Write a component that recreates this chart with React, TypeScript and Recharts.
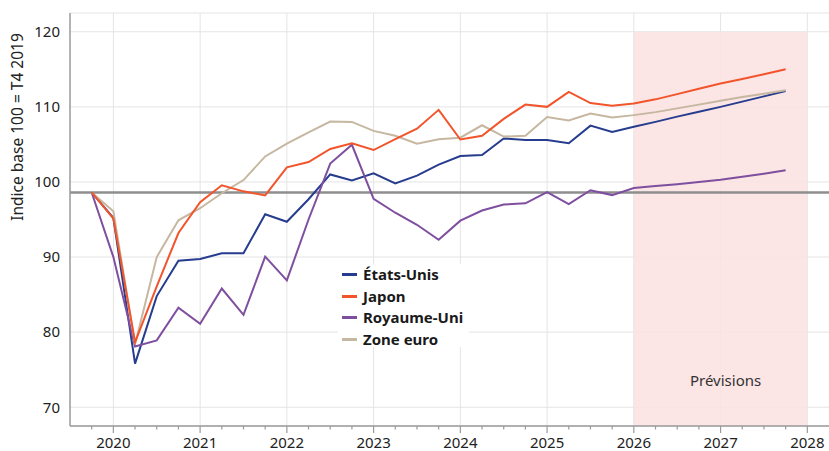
import {
  LineChart, Line,
  XAxis, YAxis, CartesianGrid, Legend,
  ReferenceArea, ReferenceLine, Label,
} from 'recharts'

// Trimestres, T4 2019 -> T4 2027 (position en années décimales)
const periods = [
  2019.75,
  2020, 2020.25, 2020.5, 2020.75,
  2021, 2021.25, 2021.5, 2021.75,
  2022, 2022.25, 2022.5, 2022.75,
  2023, 2023.25, 2023.5, 2023.75,
  2024, 2024.25, 2024.5, 2024.75,
  2025, 2025.25, 2025.5, 2025.75,
  2026, 2026.25, 2026.5, 2026.75,
  2027, 2027.25, 2027.5, 2027.75,
]

const etatsUnis = [
  98.6, 95.2, 75.8, 84.8, 89.5, 89.75, 90.5, 90.5, 95.7, 94.7, 97.7, 101.0, 100.2,
  101.15, 99.8, 100.85, 102.3, 103.45, 103.6, 105.8, 105.6, 105.6, 105.15, 107.5,
  106.65, 107.35, 108.0, 108.7, 109.35, 110.0, 110.7, 111.4, 112.1,
]
const japon = [
  98.6, 95.15, 78.65, 86.1, 93.2, 97.3, 99.55, 98.75, 98.2, 101.95, 102.65, 104.4,
  105.15, 104.25, 105.7, 107.1, 109.6, 105.65, 106.15, 108.4, 110.3, 110.0, 112.0,
  110.5, 110.15, 110.45, 111.0, 111.7, 112.4, 113.1, 113.7, 114.35, 115.0,
]
const royaumeUni = [
  98.6, 90.0, 78.1, 78.9, 83.25, 81.1, 85.8, 82.3, 90.05, 86.9, 95.0, 102.45, 104.95,
  97.75, 95.9, 94.3, 92.3, 94.85, 96.2, 97.0, 97.15, 98.65, 97.05, 98.9, 98.25,
  99.2, 99.45, 99.7, 100.0, 100.3, 100.7, 101.1, 101.55,
]
const zoneEuro = [
  98.6, 96.1, 78.4, 90.0, 94.9, 96.5, 98.5, 100.25, 103.4, 105.1, 106.6, 108.05,
  108.0, 106.8, 106.15, 105.1, 105.7, 105.9, 107.55, 106.05, 106.15, 108.65, 108.2,
  109.1, 108.6, 108.9, 109.3, 109.8, 110.3, 110.8, 111.3, 111.75, 112.2,
]

const years = [2020, 2021, 2022, 2023, 2024, 2025, 2026, 2027, 2028]
const yTicks = [70, 80, 90, 100, 110, 120]
const innerYTicks = [70, 79.55, 89.1, 98.6, 108.15, 117.7]
const baseLevel = 98.6

const series = [
  { key: 'eu', name: 'États-Unis', color: '#263c8e', values: etatsUnis },
  { key: 'jp', name: 'Japon', color: '#f2542b', values: japon },
  { key: 'uk', name: 'Royaume-Uni', color: '#7f4f9f', values: royaumeUni },
  { key: 'ze', name: 'Zone euro', color: '#c6b7a0', values: zoneEuro },
]
const drawOrder = ['eu', 'uk', 'ze', 'jp']

const data = periods.map((t, i) => {
  const row: Record<string, number> = { t }
  series.forEach(s => { row[s.key] = s.values[i] })
  return row
})

const quarterTicks = [2019.75, ...years.flatMap(y => (y === 2028 ? [y] : [y, y + 0.25, y + 0.5, y + 0.75]))]

const AXIS = '#9a9a9a'
const FONT = '"Noto Sans", "Open Sans", sans-serif'

function XTick({ x, y, payload }: any) {
  const v = payload.value as number
  const isYear = Number.isInteger(v)
  return (
    <g>
      <line x1={x} x2={x} y1={y} y2={y + (isYear ? 7 : 3.5)} stroke={AXIS} strokeWidth={1.2} />
      {isYear && (
        <text x={x} y={y + 22} textAnchor="middle" fill="#222" fontSize={15} fontFamily={FONT}>
          {v}
        </text>
      )}
    </g>
  )
}

function LegendBox() {
  return (
    <div style={{ background: '#fff', width: 131, height: 83, paddingLeft: 4, boxSizing: 'border-box', fontFamily: FONT }}>
      {series.map(s => (
        <div key={s.key} style={{ display: 'flex', alignItems: 'center', height: 21.5 }}>
          <span style={{ width: 15, height: 3, background: s.color, marginRight: 6 }} />
          <span style={{ fontWeight: 700, fontSize: 15, color: '#1a1a1a', lineHeight: '21.5px' }}>{s.name}</span>
        </div>
      ))}
    </div>
  )
}

export default function App() {
  return (
    <div style={{ position: 'absolute', left: 0, top: 0, width: 829, height: 451, background: '#fff', fontFamily: FONT }}>
      <LineChart width={829} height={451} data={data} margin={{ top: 13, right: 0, bottom: 0, left: 0 }}>
        <CartesianGrid stroke="#e4e4e4" strokeWidth={1} verticalValues={years} />
        <ReferenceArea
          x1={2026}
          x2={2028}
          y1={67.5}
          y2={120}
          fill="#fbe1e1"
          fillOpacity={0.88}
          stroke="none"
          label={{ value: 'Prévisions', position: 'insideBottom', offset: 40, dx: 5, fill: '#333', fontSize: 15, fontFamily: FONT }}
        />
        <ReferenceLine y={baseLevel} stroke="#8e8e8e" strokeWidth={2.5} />
        <XAxis
          dataKey="t"
          type="number"
          domain={[2019.5, 2028.25]}
          ticks={quarterTicks}
          interval={0}
          allowDataOverflow
          tickLine={false}
          tickSize={0}
          tickMargin={0}
          height={25}
          axisLine={{ stroke: AXIS, strokeWidth: 1.5 }}
          tick={(props: any) => <XTick {...props} />}
        />
        <YAxis
          domain={[67.5, 122.5]}
          ticks={yTicks}
          allowDataOverflow
          width={70}
          tickLine={false}
          tickSize={6}
          tickMargin={4}
          axisLine={{ stroke: AXIS, strokeWidth: 1.5 }}
          tick={{ fill: '#222', fontSize: 15, fontFamily: FONT }}
        >
          <Label
            content={() => (
              <text
                x={17}
                y={127}
                transform="rotate(-90 17 127)"
                textAnchor="middle"
                dominantBaseline="central"
                fill="#222"
                fontSize={15.5}
                fontFamily={FONT}
              >
                Indice base 100 = T4 2019
              </text>
            )}
          />
        </YAxis>
        <YAxis
          yAxisId="inner"
          mirror
          domain={[67.5, 122.5]}
          ticks={innerYTicks}
          allowDataOverflow
          tick={false}
          tickSize={5}
          axisLine={false}
          tickLine={{ stroke: AXIS, strokeWidth: 1.2 }}
        />
        {drawOrder.map(k => {
          const s = series.find(x => x.key === k)!
          return (
            <Line
              key={s.key}
              dataKey={s.key}
              name={s.name}
              type="linear"
              stroke={s.color}
              strokeWidth={2}
              dot={false}
              activeDot={false}
              isAnimationActive={false}
            />
          )
        })}
        <Legend
          layout="vertical"
          align="center"
          verticalAlign="middle"
          content={() => <LegendBox />}
          wrapperStyle={{ left: 338, top: 264, width: 131, height: 83 }}
        />
      </LineChart>
    </div>
  )
}
